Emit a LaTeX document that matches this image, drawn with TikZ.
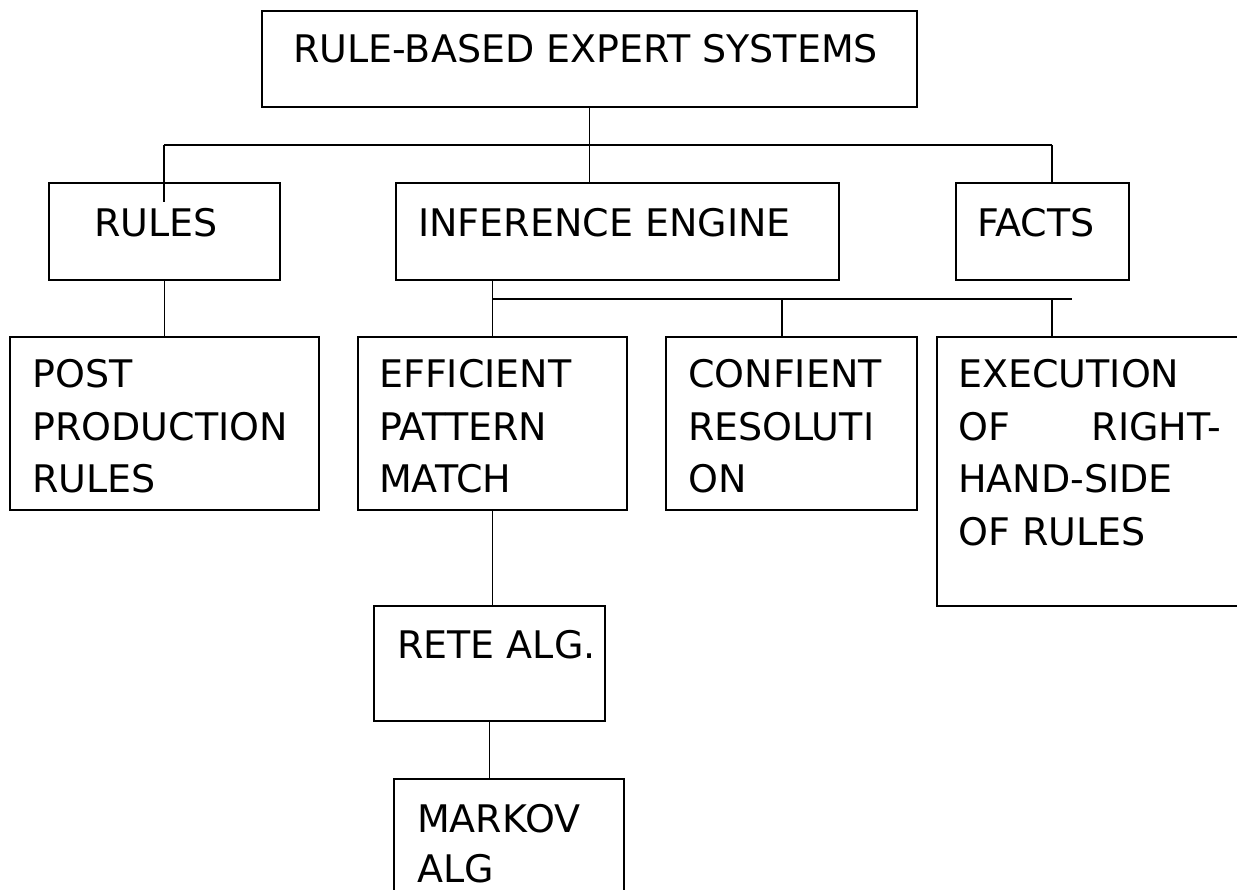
\documentclass[tikz,border=0pt]{standalone}
\usepackage{fontspec}
\setmainfont{DejaVu Sans}
\usetikzlibrary{fit}
\begin{document}
\begin{tikzpicture}[x=1pt,y=-1pt,
  box/.style={draw, line width=1.5pt, inner sep=0pt},
  lbl/.style={anchor=base west, inner sep=0pt, font=\fontsize{38}{46}\selectfont},
  lblr/.style={lbl, anchor=base east},
  link/.style={line width=1.1pt},
  bus/.style={line width=2.2pt}]
\useasboundingbox (0,0) rectangle (1237,890);
\clip (0,0) rectangle (1237,890);

% boxes
\node[box, fit={(262,11) (917,107)}]   (top)    {};
\node[box, fit={(49,183) (280,280)}]   (rules)  {};
\node[box, fit={(396,183) (839,280)}]  (inf)    {};
\node[box, fit={(956,183) (1129,280)}] (facts)  {};
\node[box, fit={(10,337) (319,510)}]   (post)   {};
\node[box, fit={(358,337) (627,510)}]  (epm)    {};
\node[box, fit={(666,337) (917,510)}]  (conf)   {};
\node[box, fit={(937,337) (1262,606)}] (exec)   {};
\node[box, fit={(374,606) (605,721)}]  (rete)   {};
\node[box, fit={(394,779) (624,905)}]  (markov) {};

% labels
\node[lbl] (tTop)  at (293,63)  {RULE-BASED EXPERT SYSTEMS};
\node[lbl] (tRul)  at (94,237)  {RULES};
\node[lbl] (tInf)  at (418,237) {INFERENCE ENGINE};
\node[lbl] (tFac)  at (977,237) {FACTS};
\node[lbl] (tPo1)  at (32,388)  {POST};
\node[lbl] (tPo2)  at (32,440)  {PRODUCTION};
\node[lbl] (tPo3)  at (32,492)  {RULES};
\node[lbl] (tEp1)  at (379,388) {EFFICIENT};
\node[lbl] (tEp2)  at (379,440) {PATTERN};
\node[lbl] (tEp3)  at (379,492) {MATCH};
\node[lbl] (tCo1)  at (688,388) {CONFIENT};
\node[lbl] (tCo2)  at (688,440) {RESOLUTI};
\node[lbl] (tCo3)  at (688,492) {ON};
\node[lbl] (tEx1)  at (958,388) {EXECUTION};
\node[lbl] (tEx2a) at (958,440) {OF};
\node[lblr] (tEx2b) at (1221,440) {RIGHT-};
\node[lbl] (tEx3)  at (958,492) {HAND-SIDE};
\node[lbl] (tEx4)  at (958,545) {OF RULES};
\node[lbl] (tRet)  at (397,658) {RETE ALG.};
\node[lbl] (tMa1)  at (417,832) {MARKOV};
\node[lbl] (tMa2)  at (417,882) {ALG};

% upper tree
\coordinate (busL) at (164,145);
\coordinate (busR) at (1052,145);
\coordinate (rulesIn) at (164,202);
\draw[link] (top.south) -- (top.south |- inf.north);
\draw[link] (busL) -- (busR);
\draw[link] (busL) -- (rulesIn);
\draw[link] (busR) -- (busR |- facts.north);
\draw[link] (rules.south) -- (post.north);

% inference engine branches
\coordinate (ibusL) at (492,299);
\coordinate (ibusR) at (1072,299);
\coordinate (cdrop) at (782,299);
\coordinate (edrop) at (1052,299);
\draw[link] (epm.north |- inf.south) -- (epm.north);
\draw[bus] (ibusL) -- (ibusR);
\draw[link] (cdrop) -- (cdrop |- conf.north);
\draw[link] (edrop) -- (edrop |- exec.north);

% pattern-match chain
\draw[link] (epm.south) -- (epm.south |- rete.north);
\draw[link] (rete.south) -- (rete.south |- markov.north);
\end{tikzpicture}
\end{document}
